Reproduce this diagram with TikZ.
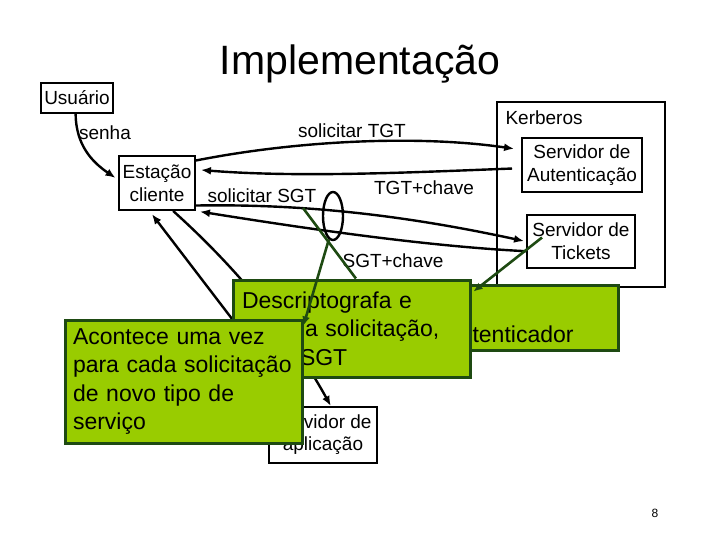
\documentclass[tikz,border=0pt]{standalone}
\usepackage{fontspec}
\setmainfont{Liberation Sans}
\usetikzlibrary{arrows.meta,calc,shapes.geometric}
\definecolor{leaf}{HTML}{99CC00}
\definecolor{moss}{HTML}{1E4A12}
\newcommand\lblfont{\fontsize{19}{23}\selectfont}
\newcommand\notefont{\fontsize{23}{28.5}\selectfont}
\newcommand\headfont{\fontsize{41}{48}\selectfont}

\begin{document}
\begin{tikzpicture}[x=1pt,y=-1pt,>={Latex[length=10pt,width=8pt]},
    box/.style={draw,line width=2pt,align=center,font=\lblfont,inner sep=0pt},
    msg/.style={font=\lblfont,anchor=base},
    wire/.style={line width=2.4pt},
    note/.style={draw=moss,fill=leaf,line width=3pt,align=left,font=\notefont,inner ysep=0pt},
    hint/.style={draw=moss,line width=2.6pt,>={Latex[length=9pt,width=8pt]}}]
  \useasboundingbox (0,0) rectangle (720,540);
  \node[font=\headfont,anchor=base] (title) at (360,75) {Implementação};
  % boxes
  \node[box,minimum width=72pt,minimum height=30pt] (user) at (77,98) {Usuário};
  \node[box,minimum width=76pt,minimum height=54pt] (client) at (157,183) {Estação\\cliente};
  \node[box,minimum width=168pt,minimum height=185pt] (kerb) at (581,194.5) {};
  \node[font=\lblfont,anchor=base west] (kerblbl) at (502,125) {Kerberos};
  \node[box,minimum width=120pt,minimum height=54pt] (as) at (582,165) {Servidor de\\Autenticação};
  \node[box,minimum width=108pt,minimum height=53pt] (tgs) at (581,241.5) {Servidor de\\Tickets};
  \node[box,minimum width=108pt,minimum height=56pt,font=\fontsize{19}{22}\selectfont] (app) at (323,435) {Servidor de\\aplicação};
  % messages
  \node[msg] (pwd) at (105,140) {senha};
  \node[msg] (reqtgt) at (352,138) {solicitar TGT};
  \node[msg] (tgtkey) at (424,195) {TGT+chave};
  \node[msg] (reqsgt) at (262,203) {solicitar SGT};
  \node[msg] (sgtkey) at (393,267) {SGT+chave};
  \draw[wire,->,shorten >=3pt] (user.-95) .. controls (76,145) and (92,162) .. (client.175);
  \draw[wire,->,shorten >=7pt] (client.30) .. controls (300,140) and (420,135) .. (as.166);
  \draw[wire,->,shorten <=9pt,shorten >=5pt] (as.183) .. controls (420,172) and (300,178) .. (client.19);
  \draw[wire,->,shorten >=2pt] (client.-30) .. controls (290,204) and (390,212) .. (tgs.west);
  \draw[wire,->,shorten >=4pt] (tgs.190) .. controls (420,246) and (290,226) .. (client.south east);
  \draw[wire,->,shorten >=4pt] (app.130) -- (client.-105);
  \draw[wire,->] (client.-60) .. controls (250,280) and (300,350) .. (app.75);
  \node[ellipse,draw,line width=2.4pt,minimum width=20pt,minimum height=48pt,inner sep=0pt] (ring) at (333,216) {};
  % callouts
  \node[note,minimum width=163pt,minimum height=65pt] (box3) at (536.5,317.5) {};
  \node[font=\notefont,anchor=base west] (box3txt) at (469,342) {tenticador};
  \node[note,text width=219pt,inner xsep=9pt,minimum height=97pt] (box1) at (351.5,328.5)
    {Descriptografa e\\\hspace*{63pt}a solicitação,\\\hspace*{58pt}SGT};
  \node[note,text width=221pt,inner xsep=8pt,minimum height=123pt] (box2) at (183.5,381.5)
    {Acontece uma vez\\para cada solicitação\\de novo tipo de\\serviço};
  \coordinate (sgtmark) at (303,208);
  \draw[hint] (box1.85) -- (sgtmark);
  \draw[hint,->] (ring.-100) -- ($(box1.north west)+(72,47)$);
  \draw[hint,->] ($(tgs.center)+(-39,-4)$) -- ($(box3.north west)+(20,8)$);
  \node[font=\fontsize{12}{14}\selectfont,anchor=base] (pageno) at (655,517) {8};
\end{tikzpicture}
\end{document}
